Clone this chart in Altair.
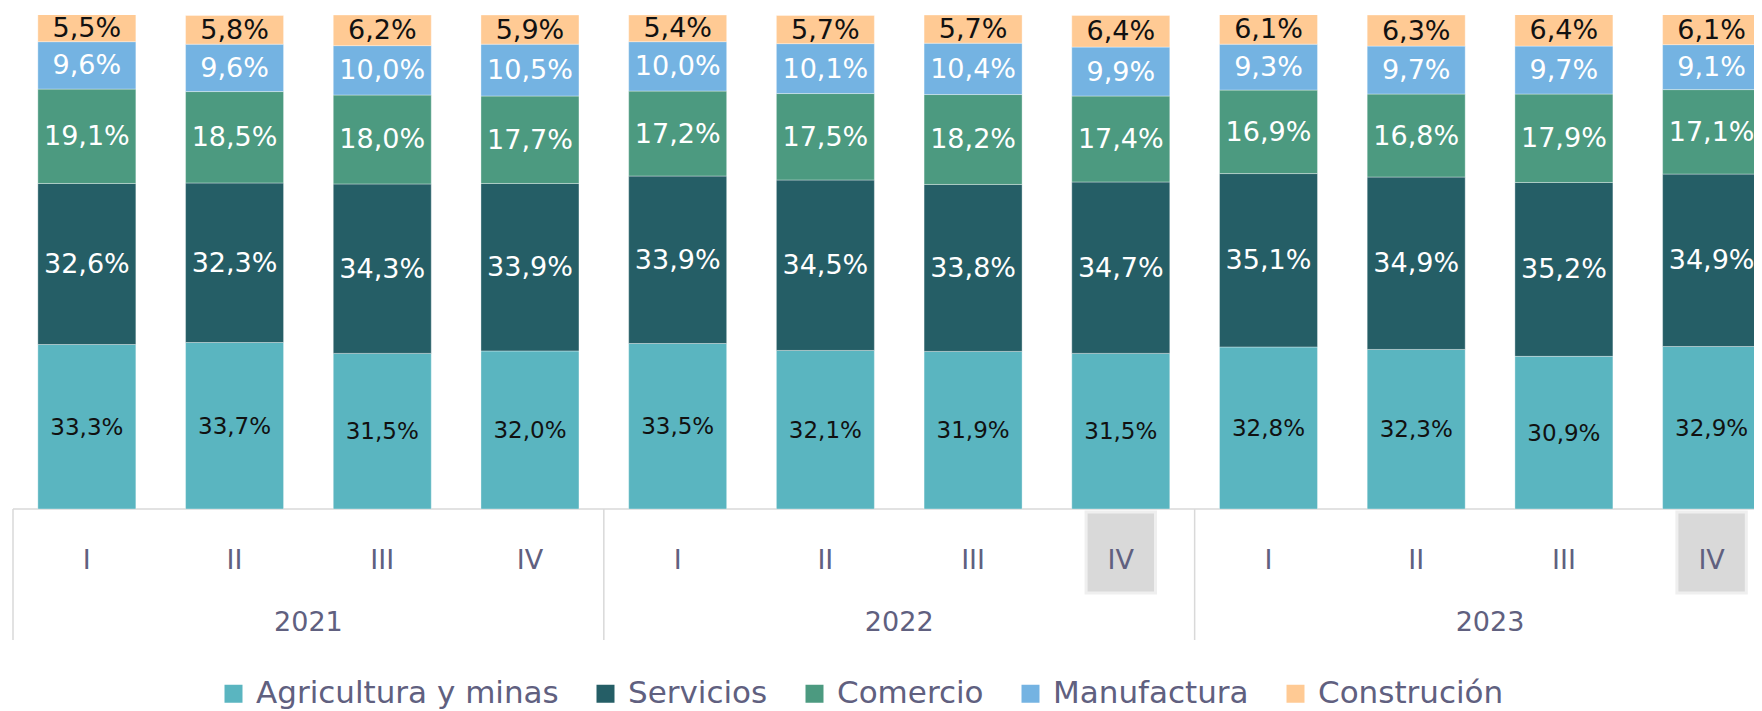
import altair as alt
import pandas as pd

# ---- data ----
quarters = ["I", "II", "III", "IV", "I", "II", "III", "IV", "I", "II", "III", "IV"]
years = ["2021"] * 4 + ["2022"] * 4 + ["2023"] * 4
highlight = [False] * 7 + [True] + [False] * 3 + [True]

sectors = ["Agricultura y minas", "Servicios", "Comercio", "Manufactura", "Construción"]
colors = ["#5AB5C0", "#255E66", "#4C9A80", "#74B3E2", "#FFCA94"]
label_colors = ["#111111", "#FFFFFF", "#FFFFFF", "#FFFFFF", "#111111"]
label_sizes = [23, 27, 27, 27, 27]

agricultura = [33.3, 33.7, 31.5, 32.0, 33.5, 32.1, 31.9, 31.5, 32.8, 32.3, 30.9, 32.9]
servicios = [32.6, 32.3, 34.3, 33.9, 33.9, 34.5, 33.8, 34.7, 35.1, 34.9, 35.2, 34.9]
comercio = [19.1, 18.5, 18.0, 17.7, 17.2, 17.5, 18.2, 17.4, 16.9, 16.8, 17.9, 17.1]
manufactura = [9.6, 9.6, 10.0, 10.5, 10.0, 10.1, 10.4, 9.9, 9.3, 9.7, 9.7, 9.1]
construcion = [5.5, 5.8, 6.2, 5.9, 5.4, 5.7, 5.7, 6.4, 6.1, 6.3, 6.4, 6.1]

series = [agricultura, servicios, comercio, manufactura, construcion]

# ---- tables built from the arrays ----
rows = []
cum = [0.0] * len(quarters)
for s_i, (name, vals) in enumerate(zip(sectors, series)):
    for i, v in enumerate(vals):
        y0 = cum[i]
        y1 = y0 + v
        cum[i] = y1
        rows.append({
            "idx": i, "sector": name, "order": s_i, "y0": y0, "y1": y1,
            "mid": (y0 + y1) / 2,
            "label": f"{v:.1f}".replace(".", ",") + "%",
            "lcolor": label_colors[s_i], "lsize": label_sizes[s_i],
        })
df = pd.DataFrame(rows)

cats = pd.DataFrame({"idx": list(range(len(quarters))), "quarter": quarters, "year": years})
hl_df = pd.DataFrame({"idx": [i for i, h in enumerate(highlight) if h]})
hl_df["xl"] = hl_df["idx"] - 0.235
hl_df["xr"] = hl_df["idx"] + 0.235

uniq_years = sorted(set(years))
year_df = pd.DataFrame({
    "year": uniq_years,
    "mid": [(min(i for i, y in enumerate(years) if y == yy) + max(i for i, y in enumerate(years) if y == yy)) / 2 for yy in uniq_years],
    "sep": [min(i for i, y in enumerate(years) if y == yy) - 0.5 for yy in uniq_years],
})

W = 1741
H = 494
xscale = alt.Scale(domain=[-0.5, 11.287], nice=False, zero=False, padding=0)
yscale = alt.Scale(domain=[0, 100], nice=False, zero=False, padding=0)
FONT = "DejaVu Sans"
AXC = "#60607F"

bars = alt.Chart(df).mark_bar(size=98, clip=True, stroke="white",
                              strokeWidth=1, strokeOpacity=0.35).encode(
    x=alt.X("idx:Q", scale=xscale, axis=None),
    y=alt.Y("y0:Q", scale=yscale, axis=None),
    y2="y1:Q",
    color=alt.Color("sector:N", scale=alt.Scale(domain=sectors, range=colors),
                    legend=alt.Legend(title=None, orient="none", legendX=205, legendY=663,
                                      direction="horizontal", symbolType="square",
                                      symbolSize=324, symbolStrokeWidth=0,
                                      labelFont=FONT, labelFontSize=31, labelColor=AXC,
                                      columnPadding=31, labelOffset=7, labelLimit=500,
                                      padding=0)),
)

labels = alt.Chart(df).mark_text(font=FONT, baseline="middle", align="center", dy=1).encode(
    x=alt.X("idx:Q", scale=xscale, axis=None),
    y=alt.Y("mid:Q", scale=yscale, axis=None),
    text="label:N",
    color=alt.Color("lcolor:N", scale=None),
    size=alt.Size("lsize:Q", scale=None),
)

axis_line = alt.Chart(pd.DataFrame({"y": [0]})).mark_rule(color="#D9D9D9", strokeWidth=1.5).encode(
    y=alt.Y("y:Q", scale=yscale, axis=None)
)

hl_boxes = alt.Chart(hl_df).mark_rect(fill="#D9D9D9", stroke="#EFEFEF", strokeWidth=3).encode(
    x=alt.X("xl:Q", scale=xscale, axis=None), x2="xr:Q",
    y=alt.value(H + 3), y2=alt.value(H + 84)
)

seps = alt.Chart(year_df).mark_rule(color="#D9D9D9", strokeWidth=1.5).encode(
    x=alt.X("sep:Q", scale=xscale, axis=None), y=alt.value(H), y2=alt.value(H + 131)
)

q_labels = alt.Chart(cats).mark_text(font=FONT, fontSize=27, color=AXC, baseline="middle").encode(
    x=alt.X("idx:Q", scale=xscale, axis=None), y=alt.value(H + 52), text="quarter:N"
)

y_labels = alt.Chart(year_df).mark_text(font=FONT, fontSize=27, color=AXC, baseline="middle").encode(
    x=alt.X("mid:Q", scale=xscale, axis=None), y=alt.value(H + 114), text="year:N"
)

chart = alt.layer(axis_line, hl_boxes, seps, bars, labels, q_labels, y_labels).properties(
    width=W, height=H,
    autosize=alt.AutoSizeParams(type="none"),
    padding={"left": 5, "top": 7, "right": 0, "bottom": 202},
).configure_view(stroke=None)

chart.save("out.html", embed_options={"renderer": "svg", "actions": False})
